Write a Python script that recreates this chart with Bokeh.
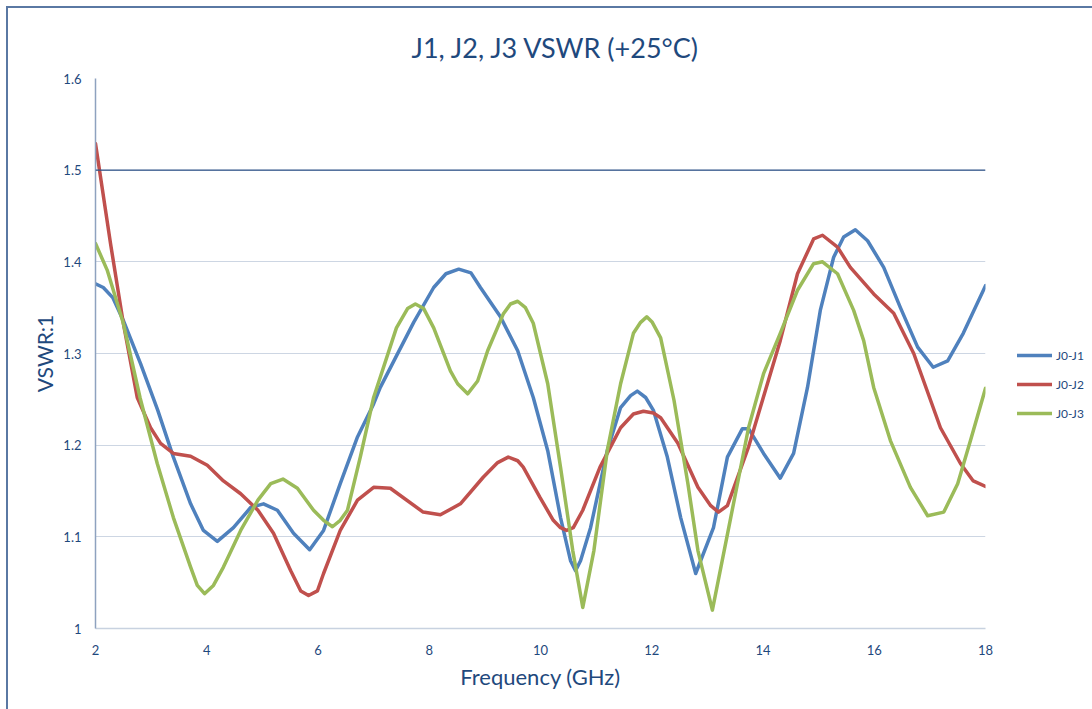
from bokeh.plotting import figure
from bokeh.models import Legend, LegendItem, FixedTicker, Span, Title
from bokeh.embed import file_html
from bokeh.resources import INLINE

# ---- data ----
freq_j1 = [2.00, 2.14, 2.31, 2.50, 2.81, 3.12, 3.40, 3.71, 3.94, 4.19, 4.48, 4.79, 5.02, 5.27,
           5.56, 5.85, 6.10, 6.40, 6.71, 7.00, 7.12, 7.72, 8.08, 8.30, 8.53, 8.75, 8.92, 9.28, 9.59, 9.87,
           10.13, 10.36, 10.54, 10.63, 10.72, 10.90, 11.20, 11.44, 11.62, 11.74, 11.89, 12.03, 12.28,
           12.52, 12.79, 13.11, 13.36, 13.63, 13.74, 14.01, 14.31, 14.55, 14.80, 15.03, 15.27, 15.45,
           15.66, 15.88, 16.17, 16.47, 16.78, 17.06, 17.32, 17.60, 18.00]
vswr_j1 = [1.376, 1.372, 1.361, 1.336, 1.289, 1.238, 1.187, 1.136, 1.107, 1.095, 1.110, 1.132, 1.136, 1.129,
           1.104, 1.086, 1.107, 1.158, 1.209, 1.245, 1.263, 1.334, 1.372, 1.387, 1.392, 1.388, 1.372, 1.340, 1.303, 1.252,
           1.194, 1.121, 1.074, 1.063, 1.074, 1.110, 1.194, 1.241, 1.254, 1.259, 1.252, 1.238, 1.187,
           1.121, 1.060, 1.110, 1.187, 1.218, 1.218, 1.191, 1.164, 1.191, 1.263, 1.347, 1.405, 1.427,
           1.435, 1.423, 1.394, 1.350, 1.307, 1.285, 1.292, 1.322, 1.374]

freq_j2 = [2.00, 2.27, 2.50, 2.75, 2.99, 3.17, 3.40, 3.71, 4.01, 4.30, 4.61, 4.92, 5.20, 5.51,
           5.69, 5.83, 5.99, 6.10, 6.40, 6.71, 7.00, 7.30, 7.89, 8.20, 8.56, 8.97, 9.23, 9.42, 9.59, 9.69,
           9.99, 10.23, 10.36, 10.47, 10.59, 10.76, 11.07, 11.44, 11.67, 11.85, 12.03, 12.16, 12.47,
           12.83, 13.06, 13.20, 13.36, 13.74, 14.31, 14.62, 14.91, 15.07, 15.34, 15.57, 15.99, 16.35,
           16.71, 17.19, 17.55, 17.78, 18.00]
vswr_j2 = [1.529, 1.420, 1.333, 1.252, 1.219, 1.202, 1.191, 1.188, 1.178, 1.161, 1.147, 1.129, 1.104, 1.063,
           1.041, 1.036, 1.041, 1.060, 1.107, 1.140, 1.154, 1.153, 1.127, 1.124, 1.136, 1.165, 1.181, 1.187, 1.183, 1.176,
           1.143, 1.118, 1.110, 1.107, 1.110, 1.129, 1.176, 1.219, 1.234, 1.237, 1.235, 1.230, 1.202,
           1.154, 1.134, 1.127, 1.134, 1.198, 1.314, 1.387, 1.425, 1.429, 1.416, 1.394, 1.365, 1.344,
           1.300, 1.219, 1.180, 1.161, 1.155]

freq_j3 = [2.00, 2.21, 2.50, 2.80, 3.11, 3.40, 3.71, 3.83, 3.96, 4.12, 4.30, 4.61, 4.92, 5.15, 5.37, 5.63,
           5.92, 6.10, 6.26, 6.40, 6.53, 6.76, 7.00, 7.41, 7.61, 7.75, 7.90, 8.08, 8.38, 8.51, 8.69, 8.87,
           9.05, 9.33, 9.46, 9.59, 9.73, 9.87, 10.13, 10.36, 10.58, 10.76, 10.96, 11.20, 11.44, 11.67,
           11.80, 11.91, 12.01, 12.16, 12.40, 12.65, 12.83, 13.09, 13.42, 13.74, 14.01, 14.31, 14.62,
           14.91, 15.07, 15.34, 15.63, 15.81, 15.99, 16.29, 16.65, 16.96, 17.25, 17.50, 17.73, 18.00]
vswr_j3 = [1.420, 1.391, 1.333, 1.252, 1.180, 1.121, 1.067, 1.047, 1.038, 1.047, 1.067, 1.107, 1.140, 1.158, 1.163, 1.153,
           1.129, 1.118, 1.111, 1.118, 1.129, 1.187, 1.252, 1.328, 1.349, 1.354, 1.349, 1.328, 1.281, 1.267, 1.256, 1.270,
           1.303, 1.343, 1.354, 1.357, 1.350, 1.333, 1.267, 1.176, 1.085, 1.023, 1.085, 1.194, 1.267, 1.322,
           1.334, 1.340, 1.334, 1.317, 1.249, 1.158, 1.085, 1.020, 1.121, 1.219, 1.278, 1.322, 1.369,
           1.398, 1.400, 1.387, 1.347, 1.314, 1.263, 1.205, 1.154, 1.123, 1.127, 1.158, 1.205, 1.262]

series_names = ["J0-J1", "J0-J2", "J0-J3"]
x_ticks = [2, 4, 6, 8, 10, 12, 14, 16, 18]
y_ticks = [1.0, 1.1, 1.2, 1.3, 1.4, 1.5, 1.6]
y_tick_labels = ["1", "1.1", "1.2", "1.3", "1.4", "1.5", "1.6"]

# ---- styling ----
FONT = "Lato"
TXT = "#1F497D"
colors = ["#4F81BD", "#C0504D", "#9BBB59"]

p = figure(width=1084, height=701, output_backend="svg", toolbar_location=None,
           x_range=(2, 18), y_range=(1.0, 1.6),
           frame_width=890, frame_height=550,
           min_border_left=87, min_border_right=107, min_border_top=70, min_border_bottom=81)
p.styles = {"margin-left": "6px", "margin-top": "6px",
            "border-left": "2px solid #5a78a3", "border-top": "2px solid #5a78a3"}

p.title = None
t = Title(text="J1, J2, J3 VSWR (+25°C)", align="left", text_font=FONT,
          text_font_size="27px", text_font_style="normal", text_color=TXT,
          offset=316, standoff=30)
p.add_layout(t, "above")

p.outline_line_color = None
p.xgrid.grid_line_color = None
p.ygrid.grid_line_color = "#CDD6E3"
p.ygrid.grid_line_width = 1.2

p.xaxis.ticker = FixedTicker(ticks=x_ticks)
p.yaxis.ticker = FixedTicker(ticks=y_ticks)
p.yaxis.major_label_overrides = {v: s for v, s in zip(y_ticks, y_tick_labels)}

for ax in (p.xaxis, p.yaxis):
    ax.major_tick_line_color = None
    ax.minor_tick_line_color = None
    ax.major_label_text_font = FONT
    ax.major_label_text_font_size = "13px"
    ax.major_label_text_color = TXT
    ax.axis_label_text_font = FONT
    ax.axis_label_text_font_style = "normal"
    ax.axis_label_text_color = TXT

p.xaxis.axis_label = "Frequency (GHz)"
p.yaxis.axis_label = "VSWR:1"
p.xaxis.axis_label_text_font_size = "22px"
p.yaxis.axis_label_text_font_size = "21px"
p.xaxis.axis_line_color = "#C8D2E0"
p.xaxis.axis_line_width = 1.5
p.yaxis.axis_line_color = "#8EA2BF"
p.yaxis.axis_line_width = 1.5
p.xaxis.major_label_standoff = 10
p.yaxis.major_label_standoff = 8
p.xaxis.axis_label_standoff = 5
p.yaxis.axis_label_standoff = 3

p.add_layout(Span(location=1.5, dimension="width", line_color="#2E5287", line_width=1.2))

renderers = []
for fx, vy, c in zip([freq_j1, freq_j2, freq_j3], [vswr_j1, vswr_j2, vswr_j3], colors):
    r = p.line(fx, vy, line_color=c, line_width=3.5, line_join="round", line_cap="round")
    renderers.append(r)

legend = Legend(items=[LegendItem(label=n, renderers=[r]) for n, r in zip(series_names, renderers)],
                location=(32, 205), glyph_width=35, glyph_height=20, spacing=9,
                label_standoff=4, padding=0, margin=0,
                label_text_font=FONT, label_text_font_size="12px", label_text_color=TXT,
                border_line_color=None, background_fill_alpha=0)
p.add_layout(legend, "right")

open("out.html", "w").write(file_html(p, INLINE))
